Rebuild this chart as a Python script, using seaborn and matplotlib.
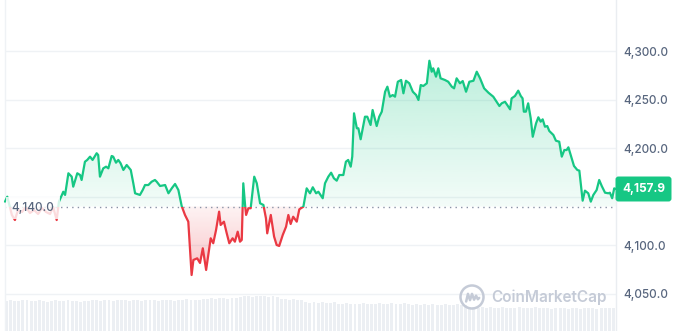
import numpy as np
import matplotlib
matplotlib.use("Agg")
import matplotlib.pyplot as plt
import seaborn as sns
from matplotlib.path import Path
from matplotlib.patches import Rectangle, Ellipse
from matplotlib.lines import Line2D
from matplotlib.colors import to_rgb

# ---------------- data ----------------
hours = [0.00,0.09,0.20,0.27,0.39,0.51,0.67,0.82,0.98,1.14,1.30,1.45,1.61,1.77,1.89,2.03,2.12,2.29,2.36,2.49,
         2.62,2.68,2.84,2.95,3.01,3.14,3.23,3.34,3.44,3.60,3.66,3.73,3.86,3.97,4.06,4.19,4.25,4.36,4.45,4.54,
         4.65,4.78,4.94,5.04,5.11,5.30,5.41,5.50,5.63,5.76,5.89,5.96,6.09,6.29,6.42,6.56,6.68,6.81,6.94,7.07,
         7.20,7.33,7.40,7.55,7.66,7.77,7.90,8.08,8.18,8.29,8.41,8.47,8.60,8.71,8.81,8.94,9.03,9.14,9.23,9.30,
         9.36,9.43,9.47,9.56,9.65,9.79,9.89,10.02,10.15,10.25,10.30,10.44,10.57,10.67,10.77,10.91,11.04,11.13,11.22,11.32,
         11.46,11.56,11.72,11.85,11.98,12.09,12.22,12.31,12.48,12.57,12.70,12.81,12.92,13.03,13.13,13.29,13.39,13.48,13.58,13.64,
         13.71,13.82,13.88,13.97,14.14,14.23,14.36,14.44,14.60,14.70,14.80,14.93,15.02,15.12,15.23,15.32,15.43,15.56,15.65,15.75,
         15.88,16.02,16.15,16.24,16.33,16.43,16.57,16.67,16.76,16.82,16.93,17.02,17.11,17.28,17.41,17.55,17.64,17.74,17.87,17.98,
         18.11,18.24,18.40,18.53,18.66,18.82,18.99,19.18,19.31,19.42,19.51,19.64,19.73,19.84,19.90,20.03,20.16,20.26,20.33,20.38,
         20.46,20.55,20.65,20.73,20.86,20.95,21.04,21.12,21.21,21.30,21.38,21.54,21.64,21.77,21.87,21.97,22.06,22.13,22.26,22.35,
         22.48,22.56,22.69,22.78,22.91,23.01,23.11,23.24,23.34,23.44,23.57,23.70,23.76,23.85,23.93,24.00]

prices = [4145.0,4150.1,4138.5,4131.3,4126.1,4136.4,4134.4,4139.5,4133.3,4136.4,4132.3,4138.5,4134.4,4132.3,4139.5,4126.1,4145.0,4155.2,4151.9,4174.2,
          4170.7,4160.4,4174.2,4172.4,4167.3,4186.1,4187.9,4191.3,4187.9,4194.8,4193.0,4170.7,4179.3,4181.0,4179.3,4192.0,4191.3,4185.1,4187.9,4184.5,
          4177.6,4182.7,4177.6,4163.9,4153.6,4151.9,4157.0,4162.1,4162.1,4165.5,4167.3,4165.5,4161.1,4162.1,4153.6,4159.1,4163.2,4157.0,4140.5,4131.3,
          4124.4,4069.5,4085.0,4086.7,4081.9,4097.0,4074.7,4107.3,4102.2,4115.8,4134.7,4121.0,4124.4,4112.4,4102.2,4107.3,4103.8,4114.1,4103.8,4105.6,
          4163.9,4141.6,4131.3,4138.2,4138.2,4170.7,4163.9,4143.3,4141.6,4127.9,4112.4,4131.3,4109.0,4100.4,4099.4,4110.7,4119.2,4131.3,4122.0,4129.5,
          4124.4,4137.1,4139.8,4158.7,4153.6,4159.8,4153.6,4155.2,4148.5,4163.9,4170.7,4174.8,4169.0,4166.6,4172.4,4172.4,4186.1,4187.9,4181.0,4191.3,
          4235.9,4220.5,4220.5,4209.2,4232.4,4232.4,4223.9,4239.3,4222.8,4232.4,4237.6,4258.1,4263.3,4253.0,4254.7,4253.0,4268.4,4270.2,4256.5,4269.4,
          4266.8,4258.1,4254.7,4249.6,4265.0,4264.0,4266.8,4290.0,4278.7,4282.2,4273.6,4282.2,4271.9,4270.2,4268.4,4263.3,4261.6,4271.9,4266.8,4269.1,
          4258.1,4268.4,4269.4,4278.7,4271.9,4261.6,4257.1,4253.0,4247.8,4243.4,4246.2,4247.8,4244.4,4240.0,4251.3,4253.7,4259.2,4253.7,4251.3,4237.6,
          4237.6,4246.2,4230.8,4211.8,4225.6,4231.8,4227.3,4229.7,4222.1,4222.8,4217.7,4213.6,4207.7,4206.7,4191.3,4198.1,4198.1,4200.9,4189.6,4181.7,
          4177.6,4176.9,4146.0,4156.3,4153.6,4145.0,4151.9,4157.0,4167.3,4161.1,4154.2,4153.6,4154.2,4148.5,4158.7,4157.9]

volumes = [30,31,30,30,31,31,30,30,31,30,29,30,31,30,30,31,30,30,29,30,30,31,
           31,30,31,31,30,31,31,31,30,31,31,30,31,31,31,30,31,31,31,30,31,31,32,31,31,31,32,
           32,33,32,33,33,32,33,33,
           34,35,35,34,35,35,35,34,35,34,
           32,32,31,32,31,31,
           29,28,29,28,29,28,28,29,
           27,27,28,27,27,27,28,27,27,27,28,27,27,28,27,27,28,
           27,26,27,26,27,26,27,26,26,27,26,26,27,26,26,
           24,24,23,24,23,24,23,23,24,23,23,23,24,23,23,23,24,23,23,23,22,23,
           23,23,22,23,23,22,23,23,23,22,23,23,23,23,24]

open_price = 4140.0
last_price = 4157.9
y_ticks = [4050, 4100, 4150, 4200, 4250, 4300]

GREEN = "#16c784"
RED = "#ea3943"
TXT = "#58667e"
GRID = "#eff2f5"

sns.set_style("white")
plt.rcParams['font.family'] = ['Inter', 'DejaVu Sans']

W, H = 683, 331
fig = plt.figure(figsize=(W / 100, H / 100), dpi=100)
fig.patch.set_facecolor("white")

x0, x1 = 5, 616
# volume axes (bottom band)
axv = fig.add_axes([x0 / W, 0, (x1 - x0) / W, 36 / H])
vol_x = np.linspace(0, 24, len(volumes))
df_v = {"t": np.arange(len(volumes)), "v": volumes}
axv.bar(vol_x, volumes, width=24 / len(volumes) * 0.72, color="#eceff3", linewidth=0, align="edge")
axv.set_xlim(0, 24)
axv.set_ylim(0, max(volumes) * 1.03)
axv.axis("off")

ax = fig.add_axes([x0 / W, 0, (x1 - x0) / W, 1])
ax.patch.set_alpha(0)
ylo, yhi = 4011.9, 4352.5
ax.set_xlim(0, 24)
ax.set_ylim(ylo, yhi)

hx = np.array(hours)
py = np.array(prices)


def gradient_fill(where, color, a_far, a_near, y_far):
    coll = ax.fill_between(hx, py, open_price, where=where, interpolate=True,
                           color="none", linewidth=0)
    path = Path.make_compound_path(*coll.get_paths())
    n = 256
    lo, hi = min(open_price, y_far), max(open_price, y_far)
    alphas = np.linspace(0, 1, n)
    if y_far > open_price:
        a = a_near + (a_far - a_near) * alphas
    else:
        a = a_far + (a_near - a_far) * alphas
    rgba = np.zeros((n, 1, 4))
    rgba[:, 0, :3] = to_rgb(color)
    rgba[:, 0, 3] = a
    im = ax.imshow(rgba, extent=[0, 24, lo, hi], origin="lower", aspect="auto",
                   interpolation="bilinear", zorder=1)
    im.set_clip_path(path, ax.transData)


gradient_fill(py >= open_price, GREEN, 0.30, 0.05, 4300)
gradient_fill(py <= open_price, RED, 0.32, 0.06, 4065)

# grid lines
for t in y_ticks:
    ax.axhline(t, color=GRID, lw=1, zorder=0.5)

# baseline
ax.axhline(open_price, color="#8a93a6", lw=1.0, ls=(0, (1, 3)), zorder=2)

# price line: green above, red below (clipped)
sns.lineplot(x=hx, y=py, ax=ax, color=GREEN, lw=1.6, zorder=3)
l_up = ax.lines[-1]
sns.lineplot(x=hx, y=py, ax=ax, color=RED, lw=1.6, zorder=3)
l_dn = ax.lines[-1]
r_up = Rectangle((-1, open_price), 26, 500, transform=ax.transData)
r_dn = Rectangle((-1, open_price - 500), 26, 500, transform=ax.transData)
l_up.set_clip_path(r_up)
l_dn.set_clip_path(r_dn)
for l in (l_up, l_dn):
    l.set_solid_joinstyle("round")
    l.set_solid_capstyle("round")

ax.set_xlim(0, 24)
ax.set_ylim(ylo, yhi)

# axis styling
for s in ("top", "bottom"):
    ax.spines[s].set_visible(False)
ax.spines["left"].set_color(GRID)
ax.spines["right"].set_color("#eaedf1")
ax.spines["left"].set_linewidth(1)
ax.spines["right"].set_linewidth(1)
ax.set_xticks([])
ax.yaxis.tick_right()
ax.set_yticks(y_ticks)
ax.set_yticklabels(["" if t == 4150 else f"{t:,.1f}" for t in y_ticks])
ax.tick_params(axis="y", length=0, pad=5, labelsize=8.5, labelcolor=TXT)
for lbl in ax.get_yticklabels():
    lbl.set_fontweight("medium")
ax.set_xlabel("")
ax.set_ylabel("")

# open price label (semi-opaque box)
ax.text(0.26, open_price - 1.5, f"{open_price:,.1f}", ha="left", va="center",
        fontsize=8.5, color=TXT, fontweight="medium", zorder=5,
        bbox=dict(boxstyle="square,pad=0.45", fc="white", ec="none", alpha=0.82))

# current price tag
fig.text((x1 + 6) / W, 1 - 189 / H, f"{last_price:,.1f}", ha="left", va="center",
         fontsize=8.5, color="white", fontweight="bold", zorder=10,
         bbox=dict(boxstyle="round,pad=0.55,rounding_size=0.25", fc=GREEN, ec="none"))

# watermark
wm = "#c5cbd7"
cx, cy, r = 472, 297, 11.5
fig.add_artist(Ellipse((cx / W, 1 - cy / H), 2 * r / W, 2 * r / H, fill=False,
                       ec=wm, lw=1.8, zorder=6))
mx = np.array([-6.5, -4.5, -2.2, 0.0, 2.3, 4.5, 6.5, 8.0])
my = np.array([5.0, -3.5, 3.5, -3.5, 3.0, -1.5, 2.5, 1.0])
fig.add_artist(Line2D((cx + mx * 0.9) / W, 1 - (cy + my * 0.9) / H, color=wm, lw=1.8,
                      solid_joinstyle="round", solid_capstyle="round", zorder=6))
fig.text(491 / W, 1 - 297 / H, "CoinMarketCap", ha="left", va="center",
         fontsize=11, color=wm, fontweight="semibold", zorder=6)

fig.savefig("out.png", dpi=100)
